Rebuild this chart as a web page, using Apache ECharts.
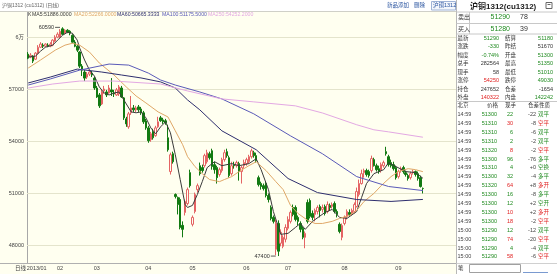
<!DOCTYPE html>
<html><head><meta charset="utf-8">
<script src="https://cdn.jsdelivr.net/npm/echarts@6/dist/echarts.min.js"></script>
<style>html,body{margin:0;padding:0;background:#fff;}#c{width:557px;height:274px;}</style>
</head><body><div id="c"></div>
<script>
// ---------- data ----------
const months = ['2013/01','02','03','04','05','06','07','08','09'];
const monthDays = [13,15,21,18,22,17,23,22,11];
const blankSlots = 13;
// [open, close, low, high]
const candles = [
[59040,58810,58750,59160],[58870,58980,58810,59100],[58930,58640,58530,58980],[58750,59100,58700,59160],
[59100,59440,59040,59560],[59440,59620,59390,59730],[59560,59500,59390,59670],[59500,59620,59440,59670],
[59560,59500,59440,59670],[59500,59620,59440,59730],[59560,59850,59500,59900],[59790,60020,59730,60130],
[60020,60190,59960,60300],
[60020,60360,59960,60480],[60500,60190,60130,60590],[60250,60420,60190,60480],[60420,60300,60250,60480],
[60360,60250,60130,60420],[60130,59730,59670,60190],[59730,59500,59440,59850],[59500,59270,59160,59560],
[59160,58350,58240,59210],[58350,58120,57780,58470],[58010,57660,57490,58120],[57720,57890,57610,58010],
[57890,58010,57780,58120],[57950,57840,57720,58070],[57660,57090,56980,57720],
[57090,56570,56520,57210],[56690,56060,55940,56800],[56170,56860,56110,56980],[56920,57030,56750,57210],
[56860,56690,56570,56980],[56800,57090,56750,57260],[56980,56860,56630,57660],[56800,56750,56570,56980],
[56690,56980,56630,57090],[56750,57150,56630,57260],[57090,56570,56520,57210],[56520,55370,55250,56570],
[55310,55020,54850,55430],[54850,55600,54740,55710],[55660,55940,55540,56630],[55940,55830,55710,56110],
[55830,55940,55710,56060],[56000,55830,55710,56110],[55880,55660,55540,56000],[55660,55140,55020,55770],
[55190,54790,54680,55310],
[54790,54050,53930,54910],[54110,54450,53990,54560],[54560,54220,54110,54740],[54340,54790,54280,54910],
[54850,55140,54790,55430],[55370,55200,55140,55480],[55250,55140,55020,55370],[55200,55080,54970,55310],
[54220,53530,53420,54970],[52270,53240,52100,53360],[53300,52840,52730,53420],[50950,50830,50720,51010],
[50780,50370,49800,50830],[50660,49050,48940,50780],[49170,48940,48480,49400],[49910,50550,49740,50660],
[50430,51230,50320,51350],[52210,51460,51350,52380],
[49230,49630,49110,49740],[49970,50950,49860,51060],[51230,51460,51060,51580],[52610,52150,52040,52790],
[52500,52330,52210,52670],[52610,53190,52500,53300],[52840,53360,52730,53530],[53300,53070,52960,53420],
[53470,52560,52380,53590],[52670,52380,52150,52840],[52500,51920,51580,52610],[52100,52380,51980,52500],
[52330,52960,52210,53070],[52960,53360,52840,53530],[53420,53190,53070,53590],[53070,52040,51920,53190],
[52150,52610,52040,52840],[52670,52610,52440,52840],[52610,52790,52500,52900],[52730,52270,51750,52840],
[52270,52500,51580,52610],[52610,52790,52440,52960],
[52730,52960,52610,53070],[52840,53130,52730,53240],[53130,53470,53020,53590],[53360,53190,53070,53470],
[53190,52900,52790,53360],[51920,51520,51410,52040],[51580,51410,51230,51690],[51460,51290,51180,51580],
[51580,50890,50780,51690],[50890,50660,50490,51010],[50200,49570,49460,50320],[49630,49400,49280,49740],
[47790,49280,47450,49510],[49280,47680,47400,49460],[48140,48770,47960,48940],[47960,48480,47850,48600],
[48370,49050,48190,49230],
[49000,49510,48880,49690],[49400,49920,49280,50030],[50200,49800,49690,50370],[50200,49510,49400,50320],
[49630,49400,49170,49740],[49280,48940,48770,49400],[49000,48480,48370,49110],[48480,48710,47850,48820],
[50490,49400,49280,50660],[50600,49690,49570,50720],[49860,49630,49460,50030],[49800,50030,49400,50140],
[49970,50200,49800,50320],[50260,50030,49630,50370],[50090,50200,49910,50370],[50260,49860,49740,50370],
[49970,50370,49860,50550],[50320,50200,50030,50430],[50260,50370,50140,50490],[50430,49970,49860,50550],
[49970,49800,49630,50090],[49230,48820,48710,49340],[48480,49170,48310,49280],
[49280,49630,49170,49740],[49690,49970,49510,50090],[49910,49800,49690,50090],[49860,50030,49740,50140],
[49970,50370,49860,50490],[50260,51120,50200,51350],[50950,51580,50830,51810],[51580,52150,51520,52380],
[52210,52330,51920,52440],[52330,52100,51980,52440],[52270,52040,51920,52380],[52330,53020,52210,53190],
[52960,52610,52560,53070],[52610,52380,52270,52730],[52440,52270,52150,52610],[52330,52670,52210,52790],
[52610,52790,52500,52900],[53420,53300,53190,53700],[53130,52670,52560,53240],[52790,52610,52500,52960],
[52670,52440,52330,52840],[52500,51920,51810,52610],
[51980,52270,51870,52380],[52330,52440,52210,52560],[52500,52270,52150,52610],[52210,52100,51980,52330],
[52040,51870,51750,52150],[51920,52150,51810,52270],[52210,52270,52100,52380],[52270,52100,51980,52330],
[52150,51870,51750,52270],[51920,51410,51350,52040],[51300,51290,51010,51350]
];
// moving averages: [bar index, value]
const ma5Pts = [[0,58870],[3,58930],[5,59210],[7,59440],[10,59560],[12,59850],[14,60130],[16,60300],[18,60250],[20,59850],[21,59390],[23,58700],[25,58120],[27,57780],[29,57150],[31,56800],[33,56690],[35,56800],[37,56860],[39,56400],[42,55710],[44,55660],[46,55710],[48,55370],[50,54790],[52,54450],[54,54850],[56,55140],[58,54510],[60,53240],[62,51810],[64,50370],[65,50200],[67,50320],[69,50950],[71,51690],[73,52500],[76,52840],[79,52610],[83,52730],[86,52610],[90,52730],[93,53010],[95,52380],[98,51230],[100,49970],[103,48650],[106,48710],[109,49050],[111,49280],[113,48940],[116,49400],[121,49910],[124,50090],[127,49630],[130,49570],[134,49970],[136,50780],[138,51580],[141,52150],[145,52380],[147,52790],[150,52560],[154,52270],[158,52210],[161,51886]];
const ma20Pts = [[0,58240],[5,58700],[11,59270],[15,59560],[18,59670],[21,59560],[25,59160],[29,58530],[35,57840],[40,57150],[44,56630],[48,56230],[53,55710],[57,55420],[60,54620],[63,53820],[65,53130],[68,52560],[71,52150],[74,51810],[78,51690],[80,51810],[83,51980],[86,52270],[90,52610],[93,52840],[97,52330],[101,51690],[104,51230],[107,50320],[110,49860],[114,49460],[117,49280],[120,49280],[124,49400],[127,49570],[131,49740],[134,50030],[137,50550],[141,51010],[144,51460],[148,51980],[151,52270],[155,52440],[158,52380],[161,52266]];
const ma60Pts = [[0,57380],[9,57720],[20,58180],[30,58010],[38,57840],[46,57670],[54,57440],[60,57090],[65,56400],[70,55830],[79,54620],[93,53530],[106,51870],[118,51060],[134,50660],[148,50550],[161,50665.3333]];
const ma100Pts = [[0,57260],[9,57610],[21,58120],[33,58470],[41,58410],[49,57950],[54,57550],[60,57260],[70,56860],[79,56460],[92,55600],[107,54330],[120,53300],[134,51980],[147,51410],[161,51175.5]];
const ma250Pts = [[0,57090],[10,57320],[21,57490],[35,57490],[54,57320],[65,56920],[79,56460],[92,56290],[109,56060],[120,55650],[134,54970],[141,54680],[147,54560],[161,54252.2]];
const maNames = ['MA5','MA20','MA60','MA100','MA250'];
const maLast = ['51886.0000','52266.0000','50665.3333','51175.5000','54252.2000'];
const yTicks = [48000,51000,54000,57000,60000];
const yTickLabels = ['48000','51000','54000','57000','6万'];
const highMark = {index:14, value:60590};
const lowMark = {index:102, value:47400};

const quoteTitle = '沪铜1312(cu1312)';
const quoteTop = [['卖出','51290','78'],['买入','51280','39']];
const quoteGrid = [
 ['最新','51290','结算','51180'],['涨跌','-330','昨结','51670'],['幅度','-0.74%','开盘','51300'],
 ['总手','282564','最高','51350'],['现手','58','最低','51010'],['涨停','54250','跌停','49030'],
 ['持仓','247652','仓差','-1654'],['外盘','140322','内盘','142242']];
const quoteGridColL = ['g','g','g','k','k','r','k','r'];
const quoteGridColR = ['g','k','g','g','g','g','k','g'];
const tradeHeader = ['北京','价格','现手','仓差','性质'];
const trades = [
 ['14:59','51300','22','-22','双平'],['14:59','51310','30','-8','空平'],['14:59','51310','6','-6','双平'],
 ['14:59','51310','2','-2','双平'],['14:59','51320','8','-2','空平'],['14:59','51300','96','-76','多平'],
 ['14:59','51310','4','+0','空换'],['14:59','51300','32','-4','多平'],['14:59','51320','64','+8','多开'],
 ['14:59','51300','16','-8','多平'],['14:59','51300','12','+2','空开'],['14:59','51300','10','+2','多开'],
 ['14:59','51300','18','-2','空平'],['15:00','51290','12','-12','双平'],['15:00','51290','74','-20','空平'],
 ['15:00','51290','4','-4','双平'],['15:00','51290','58','-6','空平']];
const headerTitle = '沪铜1312 (cu1312) (日线)';
const headerLinks = ['新品添加','删除','沪铜1312'];

// ---------- build ----------
const FONT = '"Liberation Sans","Noto Sans CJK SC",sans-serif';
const COL = {g:'#1f8a1f', r:'#e02020', k:'#333333'};
const maColors = ['#3a3a3a','#e0a868','#2e2e6e','#5a5ab8','#e3a8e3'];
const cats = [], catLabel = {};
months.forEach((m, mi) => { for (let d = 0; d < monthDays[mi]; d++) { const c = m + '-' + d; if (d === 0) catLabel[cats.length] = m; cats.push(c); } });
for (let k = 0; k < blankSlots; k++) cats.push('blank' + k);
const N = cats.length;
function fill(pts){ const a = new Array(N).fill(null); pts.forEach(p => a[p[0]] = p[1]); return a; }
const maData = [ma5Pts, ma20Pts, ma60Pts, ma100Pts, ma250Pts].map(fill);

const G = [];
function T(x, y, s, o){ o = o || {}; G.push({type:'text', x, y, silent:true, z:10, style:{text:s, fill:o.c||'#333', font:(o.w||'normal')+' '+(o.fs||5.5)+'px '+FONT, textAlign:o.a||'left', textVerticalAlign:'middle'}}); }
function L(x1,y1,x2,y2,c){ G.push({type:'line', silent:true, z:5, shape:{x1,y1,x2,y2}, style:{stroke:c||'#c8c8c8', lineWidth:1}}); }
function R(x,y,w,h,f,s){ G.push({type:'rect', silent:true, z:-10, shape:{x,y,width:w,height:h}, style:{fill:f, stroke:s||null}}); }

// backgrounds
R(0,0,557,11.5,'#ffffff');
R(456.5,0,100.5,274,'#ffffff');
L(0,11.5,456,11.5,'#d0d0c8');
L(456.5,0,456.5,274,'#b8b8b8');
L(0,263.5,456,263.5,'#b0b0b0');
// header
T(2,5.5,headerTitle,{fs:5,c:'#666'});
T(387,5.5,headerLinks[0],{fs:5.5,c:'#2b55a0'});
T(414,5.5,headerLinks[1],{fs:5.5,c:'#2b55a0'});
R(431.5,1.5,24,8.5,'#f4f7fc','#9fb3d6');
T(433,5.5,headerLinks[2],{fs:5.5,c:'#2b55a0'});
// legend
T(28,14.5,'K',{fs:5,c:'#333'});
const legX = [32,74,117,162,208];
maNames.forEach((n,i) => T(legX[i],14.5,n+':'+maLast[i],{fs:5.2,c:maColors[i]}));
T(15,268.5,'日线',{fs:5.5,c:'#444'});
// quote panel
T(470,6.5,quoteTitle,{fs:8,c:'#1a1a1a',w:'bold'});
R(546,2.5,6,6,'#ffffff','#666');
L(547.5,4.5,550.5,4.5,'#666');
L(456.5,12,557,12);
quoteTop.forEach((r,i) => { const y = 17.5 + i*11.5; T(458,y,r[0],{fs:6,c:'#333'}); T(510,y,r[1],{fs:7,c:COL.g,a:'right'}); T(520,y,r[2],{fs:7,c:'#333'}); });
L(456.5,23.5,557,23.5); L(456.5,34,557,34); L(469.5,12,469.5,34);
quoteGrid.forEach((r,i) => { const y = 38 + i*8.5; T(457.5,y,r[0],{fs:5.5}); T(499,y,r[1],{fs:5.5,c:COL[quoteGridColL[i]],a:'right'}); T(505,y,r[2],{fs:5.5}); T(553,y,r[3],{fs:5.5,c:COL[quoteGridColR[i]],a:'right'}); });
L(456.5,101.5,557,101.5);
const th = 105.5;
T(457.5,th,tradeHeader[0],{fs:5.5}); T(487,th,tradeHeader[1],{fs:5.5}); T(505,th,tradeHeader[2],{fs:5.5}); T(528,th,tradeHeader[3],{fs:5.5}); T(539,th,tradeHeader[4],{fs:5.5});
trades.forEach((r,i) => { const y = 114.5 + i*8.9; const c = (r[4]==='空平'||r[4]==='多开') ? COL.r : COL.g;
  T(457.5,y,r[0],{fs:5.5,c:'#444'}); T(497,y,r[1],{fs:5.5,c:COL.g,a:'right'}); T(513,y,r[2],{fs:5.5,c:c,a:'right'}); T(536,y,r[3],{fs:5.5,c:'#444',a:'right'}); T(538,y,r[4],{fs:5.5,c:c}); });
L(456.5,263.5,557,263.5,'#d0d0d0');
T(458,268.5,'笔',{fs:5.5,c:'#444'});
R(469.5,264.5,51,8,'#ffffff','#a0a0a0');
L(523,272.5,548,272.5,'#7a9ad0');

const chart = echarts.init(document.getElementById('c'), null, {renderer:'canvas'});
const series = [{
  type:'candlestick', name:'K', data:candles, barWidth:2, z:3,
  itemStyle:{color:'#fffff0', color0:'#127a12', borderColor:'#e46464', borderColor0:'#127a12', borderWidth:1},
  markLine:{silent:true, z:1, symbol:['none','none'], label:{show:false}, animation:false,
    lineStyle:{color:'#e4e4cc', type:'solid', width:1}, data:yTicks.map(v=>({yAxis:v}))},
  markPoint:{silent:true, animation:false, symbol:'rect', symbolSize:[5,0.8], symbolOffset:[-5,0],
    itemStyle:{color:'#333'},
    label:{show:true, position:'left', distance:1, color:'#333', fontSize:5.5, fontFamily:FONT, formatter:p=>String(p.value)},
    data:[{coord:[cats[highMark.index], highMark.value], value:highMark.value},
          {coord:[cats[lowMark.index], lowMark.value], value:lowMark.value}]}
}];
maNames.forEach((n,i) => series.push({type:'line', name:n, data:maData[i], connectNulls:true, showSymbol:false, symbol:'none', smooth:false, z:4,
  lineStyle:{color:maColors[i], width:1}, itemStyle:{color:maColors[i]}}));

chart.setOption({
  animation:false,
  backgroundColor:'#fffff0',
  grid:{left:27, right:101, top:11.5, bottom:11, show:false},
  xAxis:{type:'category', data:cats, boundaryGap:true,
    axisLine:{show:false}, axisTick:{show:false}, splitLine:{show:false},
    axisLabel:{interval:(idx)=>catLabel[idx]!==undefined, margin:3, fontSize:5.5, color:'#444', fontFamily:FONT,
      formatter:(v,idx)=> idx===0 ? '{f|'+catLabel[idx]+'}' : (catLabel[idx]||''),
      rich:{f:{padding:[0,0,0,17], fontSize:5.5, color:'#444', fontFamily:FONT}}}},
  yAxis:{type:'value', min:47000, max:61500, interval:500, scale:true,
    axisLine:{show:true, lineStyle:{color:'#a8a8a8'}}, axisTick:{show:false}, splitLine:{show:false},
    axisLabel:{margin:3, fontSize:5.5, color:'#444', fontFamily:FONT,
      formatter:v=>{ const k = yTicks.indexOf(v); return k>=0 ? yTickLabels[k] : ''; }}},
  series,
  graphic:G
});
</script>
</body></html>
